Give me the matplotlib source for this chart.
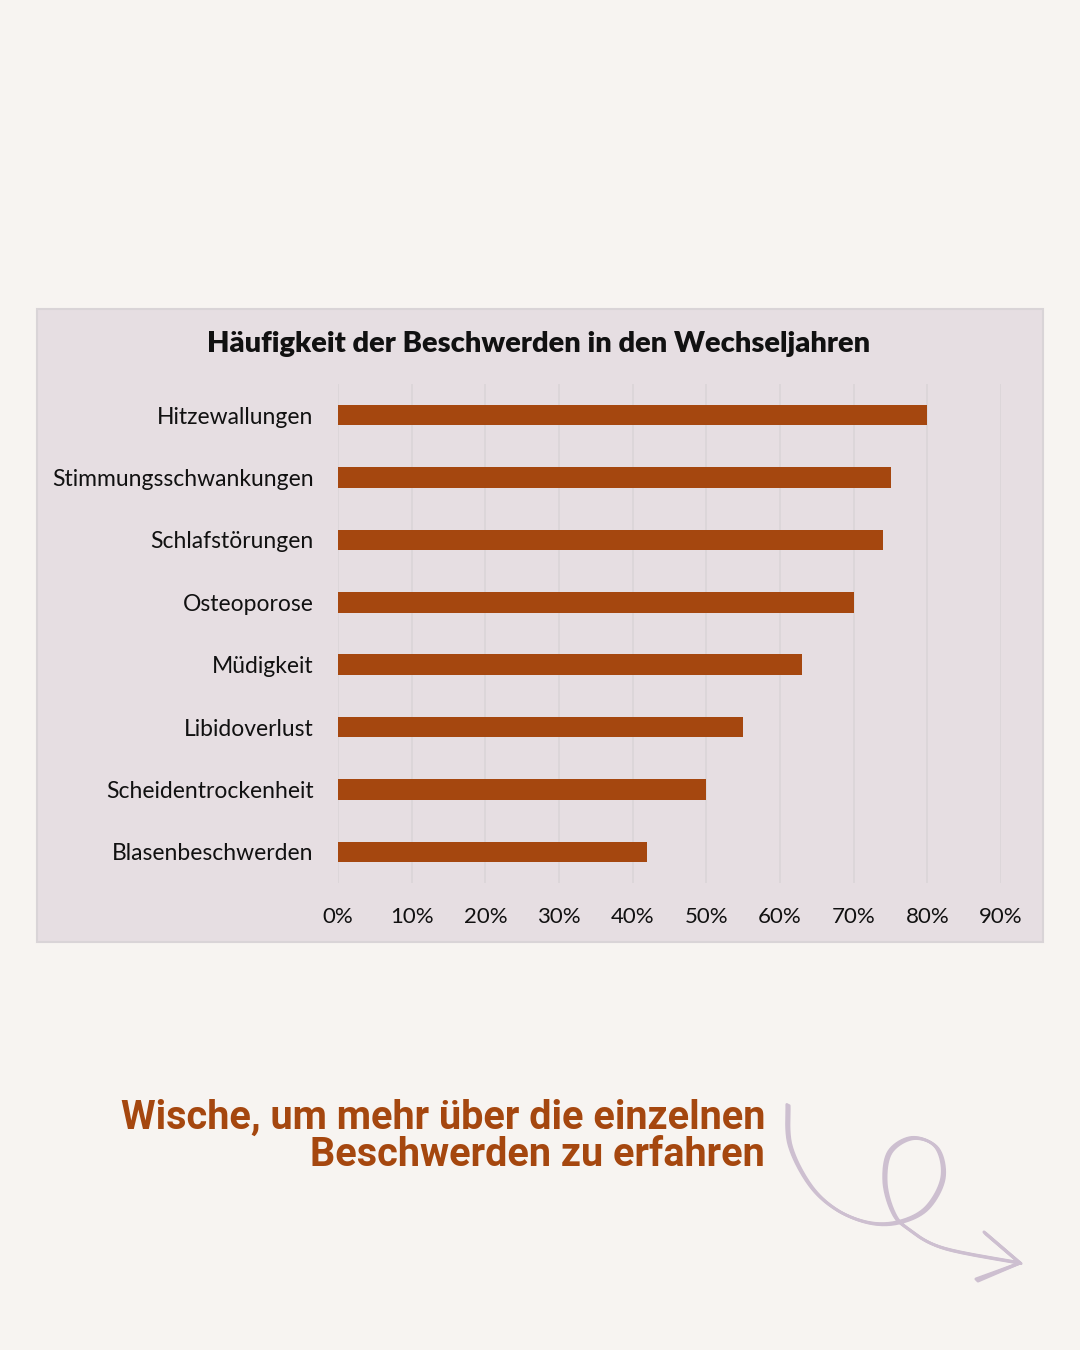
import numpy as np
import matplotlib
matplotlib.use("Agg")
import matplotlib.pyplot as plt
from matplotlib.patches import Rectangle
from matplotlib.lines import Line2D
from matplotlib.ticker import PercentFormatter

categories = ["Hitzewallungen", "Stimmungsschwankungen", "Schlafstörungen",
              "Osteoporose", "Müdigkeit", "Libidoverlust",
              "Scheidentrockenheit", "Blasenbeschwerden"]
values = [0.80, 0.75, 0.74, 0.70, 0.63, 0.55, 0.50, 0.42]
xticks = [0.0, 0.1, 0.2, 0.3, 0.4, 0.5, 0.6, 0.7, 0.8, 0.9]
title = "Häufigkeit der Beschwerden in den Wechseljahren"
footer = "Wische, um mehr über die einzelnen\nBeschwerden zu erfahren"

PAGE = "#F7F4F1"
PANEL = "#E6DEE2"
BAR = "#A5470F"
GRID = "#DAD4D7"
ARROW = "#CDBFD0"

W, H = 1080, 1350
fig = plt.figure(figsize=(W / 100, H / 100), dpi=100, facecolor=PAGE)

def fx(x):
    return x / W

def fy(y):
    return 1 - y / H

# chart panel
fig.patches.append(Rectangle((fx(37), fy(942)), fx(1043) - fx(37), fy(309) - fy(942),
                             transform=fig.transFigure, facecolor=PANEL,
                             edgecolor="#D9D4D7", linewidth=1.5, zorder=-5))

ax = fig.add_axes([fx(338), fy(883), fx(1001) - fx(338), fy(384) - fy(883)], zorder=2)
ax.set_facecolor("none")
y = np.arange(len(categories))
ax.barh(y, values, height=0.33, color=BAR, zorder=3)
ax.set_ylim(len(categories) - 0.5, -0.5)
ax.set_xlim(0, 0.9)
ax.set_yticks(y)
ax.set_yticklabels(categories, fontsize=16.5, family=["Lato", "DejaVu Sans"], color="#111111")
ax.set_xticks(xticks)
ax.xaxis.set_major_formatter(PercentFormatter(1.0, decimals=0))
for lab in ax.get_xticklabels():
    lab.set_fontsize(16)
    lab.set_family(["Lato", "DejaVu Sans"])
    lab.set_color("#111111")
ax.tick_params(axis="y", length=0, pad=17.5)
ax.tick_params(axis="x", length=0, pad=17.5)
ax.grid(axis="x", color=GRID, linewidth=1.1, zorder=0)
for s in ax.spines.values():
    s.set_visible(False)

fig.text(fx(539), fy(344), title, ha="center", va="center", fontsize=21,
         fontweight="heavy", family=["Lato", "DejaVu Sans"], color="#111111")

fig.text(fx(765), fy(1136), footer, ha="right", va="center", fontsize=28.5,
         fontweight="bold", family=["Roboto", "DejaVu Sans"],
         color=BAR, linespacing=0.98)

# decorative arrow
pts = np.array([(788, 1105), (790, 1145), (810, 1185), (837, 1210), (870, 1223),
                (900, 1222), (927, 1208), (943, 1178), (937, 1148), (913, 1138),
                (890, 1152), (885, 1182), (893, 1212), (907, 1228), (943, 1248),
                (1020, 1263)], dtype=float)

def catmull(p, n=20):
    p = np.vstack([p[0], p, p[-1]])
    out = []
    for i in range(1, len(p) - 2):
        p0, p1, p2, p3 = p[i - 1], p[i], p[i + 1], p[i + 2]
        t = np.linspace(0, 1, n, endpoint=False)[:, None]
        c = 0.5 * ((2 * p1) + (-p0 + p2) * t + (2 * p0 - 5 * p1 + 4 * p2 - p3) * t ** 2
                   + (-p0 + 3 * p1 - 3 * p2 + p3) * t ** 3)
        out.append(c)
    out.append(p[-2][None, :])
    return np.vstack(out)

curve = catmull(pts)
for off in (-1.2, 0.0, 1.2):
    fig.add_artist(Line2D(fx(curve[:, 0] + off), fy(curve[:, 1] + off * 0.5),
                          transform=fig.transFigure, color=ARROW, linewidth=2.0,
                          solid_capstyle="round"))
for hx, hy in [(985, 1233), (977, 1280)]:
    for off in (-1.0, 0.0, 1.0):
        fig.add_artist(Line2D([fx(hx + off), fx(1020)], [fy(hy + off), fy(1263)],
                              transform=fig.transFigure, color=ARROW, linewidth=2.2,
                              solid_capstyle="round"))

fig.savefig("out.png", dpi=100, facecolor=PAGE)
